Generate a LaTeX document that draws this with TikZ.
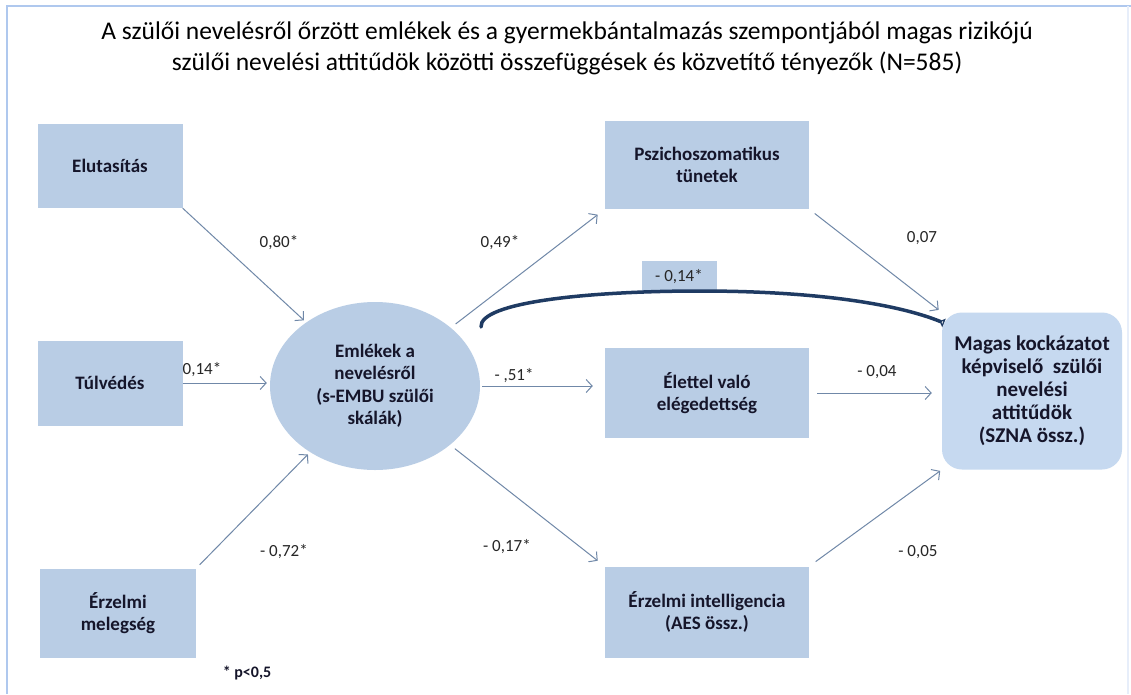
\documentclass[tikz,border=0pt]{standalone}
\usepackage{fontspec}
\setmainfont{Carlito}
\usetikzlibrary{arrows.meta,shapes.geometric}
\definecolor{boxfill}{HTML}{B9CDE5}
\definecolor{magfill}{HTML}{C6D9F0}
\definecolor{arrc}{HTML}{7088A8}
\definecolor{navy}{HTML}{1F3B63}
\definecolor{framec}{HTML}{AFC8EE}
\definecolor{txtc}{HTML}{15152A}
\definecolor{labc}{HTML}{262626}
\begin{document}
\begin{tikzpicture}[x=1pt,y=-1pt,
  varbox/.style={fill=boxfill, inner sep=2pt, align=center, text=txtc,
    font=\fontsize{19}{22.5}\selectfont\bfseries},
  conn/.style={draw=arrc, line width=1pt, -{Straight Barb[length=6pt,width=13pt]}},
  lab/.style={text=labc, font=\fontsize{17}{20}\selectfont, inner sep=1pt},
  curv/.style={draw=navy, line width=3.5pt, line cap=round,
    -{Triangle[reversed,open,length=5pt,width=9pt,line width=1.5pt]}}
]
\useasboundingbox (0,0) rectangle (1131,694);
\fill[white] (0,0) rectangle (1131,694);
\draw[framec, line width=2.5pt] (7,694) -- (7,6) -- (1131,6);
\draw[framec!30, line width=2pt] (1128,6) -- (1128,694);

\node[align=center, text=black, font=\fontsize{25.5}{31}\selectfont] (title) at (567,48)
  {A szülői nevelésről őrzött emlékek és a gyermekbántalmazás szempontjából magas rizikójú\\
   szülői nevelési attitűdök közötti összefüggések  és közvetítő tényezők (N=585)};

\node[varbox, minimum width=145pt, minimum height=84pt] (elut) at (110,166) {Elutasítás};
\node[varbox, minimum width=145pt, minimum height=85pt] (tulv) at (110,383) {Túlvédés};
\node[varbox, minimum width=156pt, minimum height=89pt] (melegs) at (118,613) {Érzelmi\\melegség};
\node[varbox, ellipse, inner sep=0pt, minimum width=210pt, minimum height=168pt] (emlek) at (375,386)
  {Emlékek a\\nevelésről\\(s-EMBU szülői\\skálák)};
\node[varbox, minimum width=204pt, minimum height=88pt] (pszi) at (707,165) {Pszichoszomatikus\\tünetek};
\node[varbox, minimum width=204pt, minimum height=90pt] (elet) at (707,393) {Élettel való\\elégedettség};
\node[varbox, minimum width=204pt, minimum height=91pt] (erzint) at (707,612) {Érzelmi intelligencia\\(AES össz.)};
\node[varbox, fill=magfill, rounded corners=20pt, minimum width=180pt, minimum height=157pt,
  font=\fontsize{21}{23}\selectfont\bfseries] (magas) at (1032,391)
  {Magas kockázatot\\képviselő\ \ szülői\\nevelési\\attitűdök\\(SZNA össz.)};
\node[fill=boxfill, text=labc, font=\fontsize{17}{20}\selectfont, minimum width=75pt, minimum height=32pt, inner sep=0pt] (clab) at (679,277) {- 0,14*};

\draw[conn, shorten >=3pt] (elut.south east) -- (emlek);
\draw[conn, shorten >=3pt] (tulv.east) -- (tulv.east -| emlek.west);
\draw[conn, shorten <=5pt, shorten >=3pt] (melegs.north east) -- (emlek);
\draw[conn, shorten <=6pt, shorten >=9pt] (emlek) -- (pszi.south west);
\draw[conn, shorten <=2pt, shorten >=12pt] (emlek.east) -- (emlek.east -| elet.west);
\draw[conn, shorten <=6pt, shorten >=9pt] (emlek) -- (erzint.north west);
\draw[conn, shorten <=7pt, shorten >=4pt] (pszi.south east) -- (magas.north west);
\draw[conn, shorten <=8pt, shorten >=10pt] (elet.east) -- (elet.east -| magas.west);
\draw[conn, shorten <=8pt, shorten >=2pt] (erzint.north east) -- (magas.south west);

\coordinate (cs) at (481,327);
\coordinate (ce) at (944,323);
\draw[curv] (cs) .. controls (479,302) and (590,291) .. (700,291) .. controls (820,291) and (900,305) .. (ce);

\node[lab] (l1) at (279,243) {0,80*};
\node[lab] (l2) at (202,370) {0,14*};
\node[lab] (l3) at (284,552) {- 0,72*};
\node[lab] (l4) at (500,243) {0,49*};
\node[lab] (l5) at (514,376) {- ,51*};
\node[lab] (l6) at (507,547) {- 0,17*};
\node[lab] (l7) at (922,238) {0,07};
\node[lab] (l8) at (877,372) {- 0,04};
\node[lab] (l9) at (918,552) {- 0,05};
\node[lab, font=\fontsize{16}{19}\selectfont\bfseries, text=txtc] (note) at (247,673) {* p<0,5};
\end{tikzpicture}
\end{document}
